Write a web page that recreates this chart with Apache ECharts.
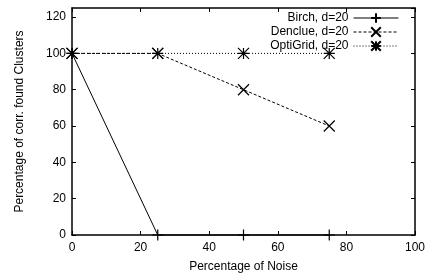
<!DOCTYPE html>
<html>
<head>
<meta charset="utf-8">
<script src="https://cdn.jsdelivr.net/npm/echarts@6/dist/echarts.min.js"></script>
<style>
  html, body { margin: 0; padding: 0; background: #fff; }
  #chart { width: 427px; height: 276px; }
</style>
</head>
<body>
<div id="chart"></div>
<script>
// data
var noise = [0, 25, 50, 75];
var birch = [100, 0, 0, 0];
var denclue = [100, 100, 80, 60];
var optigrid = [100, 100, 100, 100];
var names = ['Birch, d=20', 'Denclue, d=20', 'OptiGrid, d=20'];

var FONT = '"Liberation Sans", Arial, sans-serif';
var PLUS = 'path://M0,-1L0,1M-1,0L1,0';
var CROSS = 'path://M-1,-1L1,1M-1,1L1,-1';
var STAR = 'path://M0,-1L0,1M-1,0L1,0M-1,-1L1,1M-1,1L1,-1';

var pairs = function(ys) {
    return noise.map(function(x, i) { return [x, ys[i]]; });
};

var axisBase = {
    type: 'value',
    axisLine: { show: true, onZero: false, lineStyle: { color: '#000', width: 1.5 } },
    axisTick: { show: true, inside: true, length: 4, lineStyle: { color: '#000', width: 1 } },
    splitLine: { show: false }
};

var xBottom = Object.assign({}, axisBase, {
    position: 'bottom', min: 0, max: 100, interval: 20,
    name: 'Percentage of Noise', nameLocation: 'middle', nameGap: 26,
    nameTextStyle: { fontFamily: FONT, fontSize: 12, color: '#000' },
    axisLabel: { fontFamily: FONT, fontSize: 12, color: '#000', margin: 7 }
});
var xTop = Object.assign({}, axisBase, {
    position: 'top', min: 0, max: 100, interval: 20,
    axisLabel: { show: false }
});
var yLeft = Object.assign({}, axisBase, {
    position: 'left', min: 0, max: 125, interval: 20,
    name: 'Percentage of corr. found Clusters', nameLocation: 'middle', nameGap: 46,
    nameTextStyle: { fontFamily: FONT, fontSize: 12, color: '#000' },
    axisLabel: {
        fontFamily: FONT, fontSize: 12, color: '#000', margin: 6,
        showMaxLabel: false,
        formatter: function(v) { return v % 20 === 0 ? v : ''; }
    }
});
var yRight = Object.assign({}, axisBase, {
    position: 'right', min: 0, max: 125, interval: 20,
    axisLabel: { show: false }
});

var mkSeries = function(name, ys, symbol, dash) {
    return {
        name: name,
        type: 'line',
        data: pairs(ys),
        symbol: symbol,
        symbolSize: 11,
        clip: false,
        z: 5,
        color: '#000',
        lineStyle: { color: '#000', width: 1, type: dash },
        itemStyle: { color: '#000', borderColor: '#000', borderWidth: 1.2 },
        emphasis: { disabled: true },
        animation: false
    };
};

var mkLegend = function(name, top) {
    return {
        data: [name],
        orient: 'vertical',
        right: 28,
        top: top,
        align: 'right',
        itemWidth: 45,
        itemHeight: 12,
        padding: 0,
        selectedMode: false,
        lineStyle: { width: 1 },
        textStyle: { fontFamily: FONT, fontSize: 12, color: '#000' }
    };
};

var chart = echarts.init(document.getElementById('chart'), null, { renderer: 'canvas' });
chart.setOption({
    backgroundColor: '#fff',
    animation: false,
    grid: { left: 72, right: 12, top: 8, bottom: 41, containLabel: false, outerBoundsMode: 'none' },
    xAxis: [xBottom, xTop],
    yAxis: [yLeft, yRight],
    legend: [mkLegend(names[0], 12), mkLegend(names[1], 26), mkLegend(names[2], 40)],
    series: [
        mkSeries(names[0], birch, PLUS, 'solid'),
        mkSeries(names[1], denclue, CROSS, [3, 2]),
        mkSeries(names[2], optigrid, STAR, [1, 2])
    ]
});
</script>
</body>
</html>
